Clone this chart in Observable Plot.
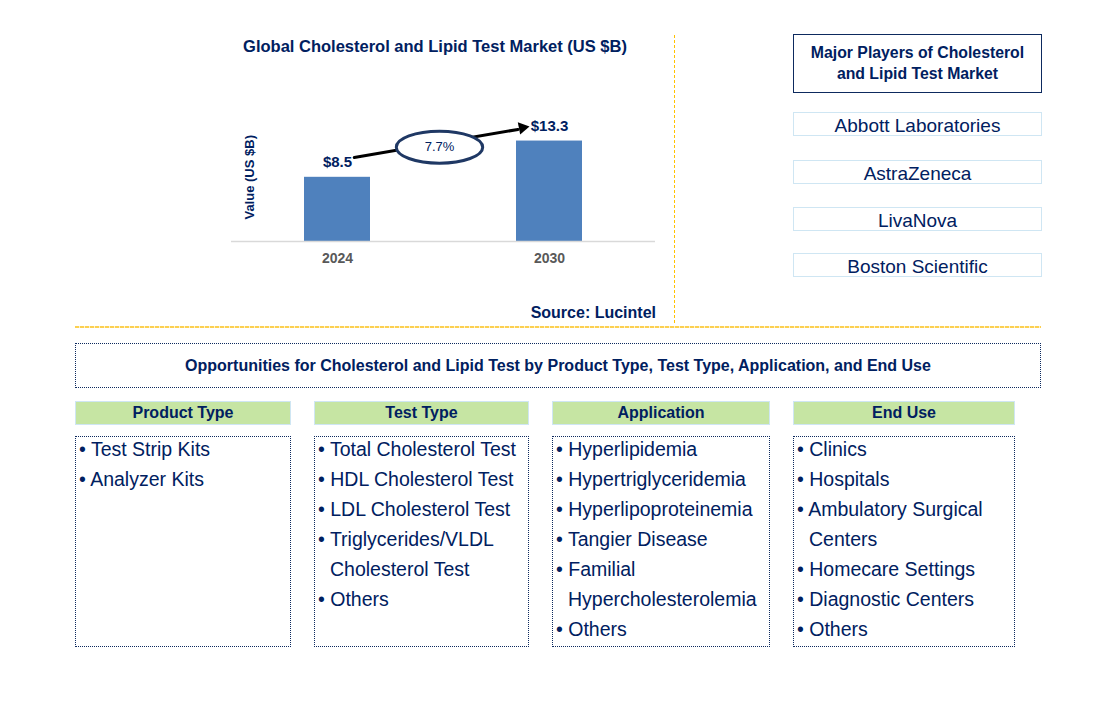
<!DOCTYPE html>
<html><head><meta charset="utf-8">
<script src="https://cdn.jsdelivr.net/npm/d3@7"></script>
<script src="https://cdn.jsdelivr.net/npm/@observablehq/plot@0.6"></script>
<style>
body{margin:0;background:#fff;font-family:"Liberation Sans",Arial,sans-serif;color:#002060;}
#page{position:relative;width:1106px;height:703px;overflow:hidden;background:#fff;}
.abs{position:absolute;box-sizing:border-box;}
.title{left:185px;top:37px;width:500px;text-align:center;font-weight:bold;font-size:16.5px;}
.vline{left:674px;top:35px;height:288px;width:1px;background:repeating-linear-gradient(to bottom,#ffc000 0 3px,transparent 3px 5px);}
.hline{left:75px;top:326px;width:966px;height:2px;background:repeating-linear-gradient(to right,#fcd050 0 4px,#fff3cf 4px 5px);}
.source{left:436px;top:304px;width:220px;text-align:right;font-weight:bold;font-size:16px;}
.mp{left:793px;top:34px;width:249px;height:59px;border:1.5px solid #0d2a5e;text-align:center;font-weight:bold;font-size:15.8px;line-height:21px;padding-top:7px;}
.player{left:793px;width:249px;height:24px;border:1.3px solid #cfe6f3;text-align:center;font-size:19px;line-height:25px;}
.opp{left:75px;top:343px;width:966px;height:45px;border:1.2px dotted #0d2a5e;text-align:center;font-weight:bold;font-size:16px;line-height:43px;}
.hdr{top:401px;height:24px;background:#c6e5a3;border:1.3px solid #cfe6f3;text-align:center;font-weight:bold;font-size:16px;line-height:21px;}
.box{top:436px;height:211px;border:1.2px dotted #0d2a5e;padding:0 0 0 3px;font-size:19.5px;line-height:30px;}
.box div{position:relative;top:-3px;padding-left:12px;text-indent:-12px;}
</style></head>
<body><div id="page"></div>
<script>
// ---- data ----
const years = ["2024", "2030"];
const marketValues = [8.5, 13.3];
const valueLabels = ["$8.5", "$13.3"];
const cagrLabel = "7.7%";
const chartTitle = "Global Cholesterol and Lipid Test Market (US $B)";
const yLabel = "Value (US $B)";
const sourceText = "Source: Lucintel";
const playersTitle = "Major Players of Cholesterol<br>and Lipid Test Market";
const players = ["Abbott Laboratories", "AstraZeneca", "LivaNova", "Boston Scientific"];
const oppTitle = "Opportunities for Cholesterol and Lipid Test by Product Type, Test Type, Application, and End Use";
const segments = ["Product Type", "Test Type", "Application", "End Use"];
const productTypeItems = ["Test Strip Kits", "Analyzer Kits"];
const testTypeItems = ["Total Cholesterol Test", "HDL Cholesterol Test", "LDL Cholesterol Test", "Triglycerides/VLDL Cholesterol Test", "Others"];
const applicationItems = ["Hyperlipidemia", "Hypertriglyceridemia", "Hyperlipoproteinemia", "Tangier Disease", "Familial Hypercholesterolemia", "Others"];
const endUseItems = ["Clinics", "Hospitals", "Ambulatory Surgical Centers", "Homecare Settings", "Diagnostic Centers", "Others"];

const navy = "#002060";
const page = document.getElementById("page");
function add(cls, html, style) {
  const d = document.createElement("div");
  d.className = "abs " + cls;
  if (html != null) d.innerHTML = html;
  if (style) Object.assign(d.style, style);
  page.appendChild(d);
  return d;
}

// ---- chart ----
const data = years.map((y, i) => ({year: y, value: marketValues[i], label: valueLabels[i]}));
const ellipse = {
  draw(ctx, size) {
    const r = Math.sqrt(size / Math.PI), rx = r * 2.7, ry = r, k = 0.5523;
    ctx.moveTo(rx, 0);
    ctx.bezierCurveTo(rx, ry * k, rx * k, ry, 0, ry);
    ctx.bezierCurveTo(-rx * k, ry, -rx, ry * k, -rx, 0);
    ctx.bezierCurveTo(-rx, -ry * k, -rx * k, -ry, 0, -ry);
    ctx.bezierCurveTo(rx * k, -ry, rx, -ry * k, rx, 0);
    ctx.closePath();
  }
};
const mid = (marketValues[0] + marketValues[1]) / 2;
const chart = Plot.plot({
  width: 450, height: 190,
  marginLeft: 11, marginRight: 15, marginTop: 22.6, marginBottom: 39,
  style: {fontFamily: "Liberation Sans, Arial, sans-serif", overflow: "visible", background: "transparent"},
  x: {domain: years, paddingInner: 0.689, paddingOuter: 0.344, label: null},
  y: {domain: [0, 17], axis: null},
  marks: [
    Plot.barY(data, {x: "year", y: "value", fill: "#4f81bd"}),
    Plot.ruleY([0], {stroke: "#d9d9d9", strokeWidth: 1.3}),
    Plot.axisX({tickSize: 0, tickPadding: 12, fontSize: 14, fontWeight: "bold", fill: "#595959", label: null}),
    Plot.text([yLabel], {frameAnchor: "left", rotate: -90, dx: 18, textAnchor: "middle", fontWeight: "bold", fontSize: 13, fill: navy}),
    Plot.text(data, {x: "year", y: "value", text: "label", dy: -15, fontWeight: "bold", fontSize: 15, fill: navy}),
    Plot.arrow([0], {x1: () => years[0], y1: () => marketValues[0], x2: () => years[1], y2: () => marketValues[1],
      dy: -17, insetStart: 17, insetEnd: 32, stroke: "#000", strokeWidth: 3, headLength: 0}),
    Plot.dot([0], {x: () => years[1], y: () => marketValues[1], dx: -27, dy: -13.3, symbol: "triangle", r: 4.6, rotate: 79, fill: "#000", stroke: "none"}),
    Plot.dot([cagrLabel], {y: () => mid, frameAnchor: "middle", dx: -4, dy: -12, symbol: ellipse, r: 16, fill: "#fff", stroke: "#1f3864", strokeWidth: 3}),
    Plot.text([cagrLabel], {y: () => mid, frameAnchor: "middle", dx: -4, dy: -12, text: d => d, fontSize: 13, fill: navy})
  ]
});
const holder = add("", null, {left: "220px", top: "90px"});
holder.appendChild(chart);

add("title", chartTitle);
add("vline");
add("hline");
add("source", sourceText);
add("mp", playersTitle);
const playerTops = [112, 160, 207, 253];
players.forEach((p, i) => add("player", p, {top: playerTops[i] + "px"}));
add("opp", oppTitle);
const lefts = [75, 314, 552, 793], widths = [216, 215, 218, 222];
const lists = [productTypeItems, testTypeItems, applicationItems, endUseItems];
segments.forEach((s, i) => {
  add("hdr", s, {left: lefts[i] + "px", width: widths[i] + "px"});
  const b = add("box", null, {left: lefts[i] + "px", width: widths[i] + "px"});
  lists[i].forEach(it => { const d = document.createElement("div"); d.textContent = "• " + it; b.appendChild(d); });
});
</script></body></html>
